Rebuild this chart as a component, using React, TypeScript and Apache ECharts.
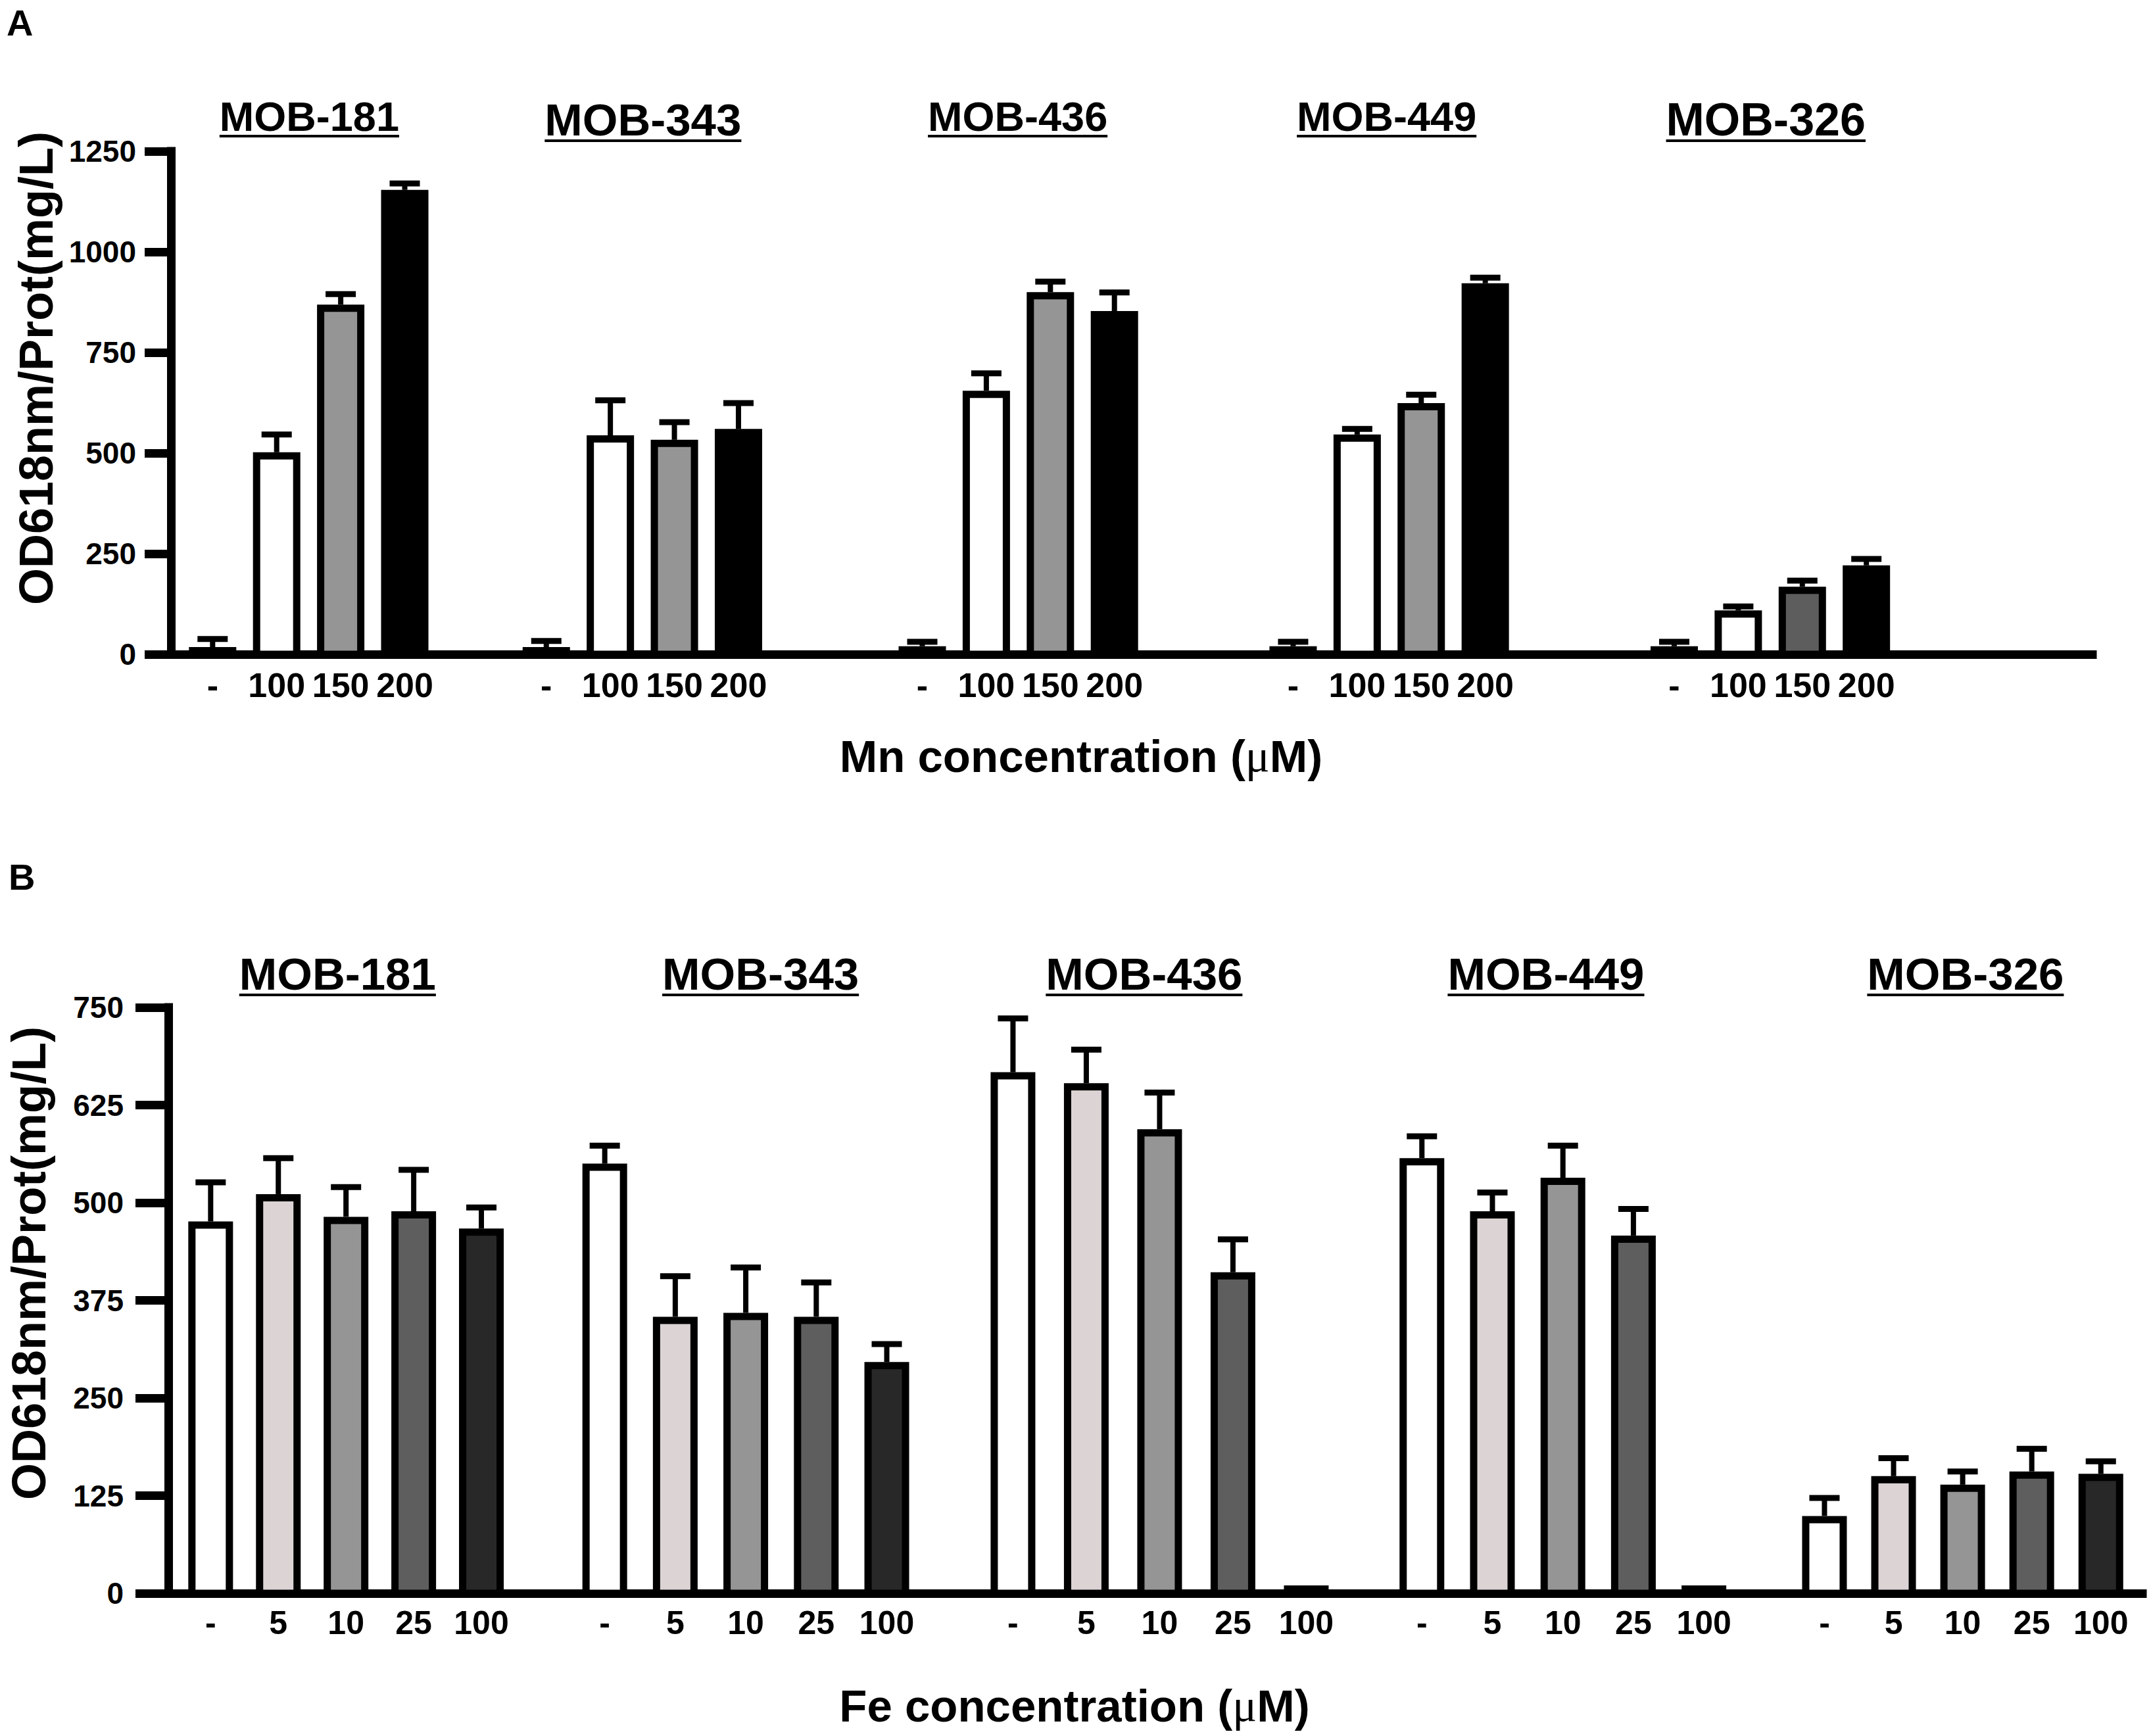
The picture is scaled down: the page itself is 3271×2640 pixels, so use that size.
import React, { useEffect, useRef } from "react";
import * as echarts from "echarts";

// ---------------- DATA ----------------
const cellLines = ["MOB-181", "MOB-343", "MOB-436", "MOB-449", "MOB-326"];

// Panel A: Mn concentration (µM)
const mnLabels = ["-", "100", "150", "200"];
const mnNone = [18, 18, 20, 20, 20];
const mn100 = [502, 544, 655, 546, 109];
const mn150 = [869, 533, 900, 624, 168];
const mn200 = [1154, 560, 853, 922, 221];
const mnNoneErr = [20, 15, 11, 11, 11];
const mn100Err = [44, 87, 43, 14, 10];
const mn150Err = [26, 44, 26, 21, 15];
const mn200Err = [16, 64, 46, 14, 16];
const mnTicks = [0, 250, 500, 750, 1000, 1250];

// Panel B: Fe concentration (µM)
const feLabels = ["-", "5", "10", "25", "100"];
const feNone = [476, 550, 667, 557, 99];
const fe5 = [511, 354, 653, 489, 150];
const fe10 = [482, 359, 594, 532, 139];
const fe25 = [489, 354, 411, 458, 156];
const fe100 = [467, 296, 10, 10, 153];
const feNoneErr = [50, 23, 69, 28, 23];
const fe5Err = [46, 52, 43, 24, 23];
const fe10Err = [38, 58, 47, 41, 17];
const fe25Err = [53, 44, 42, 34, 29];
const fe100Err = [27, 23, 0, 0, 16];
const feTicks = [0, 125, 250, 375, 500, 625, 750];

// ---------------- LAYOUT / STYLE ----------------
const FF = '"Liberation Sans", Arial, Helvetica, sans-serif';

const layoutA = {
  left: 260, top: 230, width: 2922, height: 765, xMax: 30,
  starts: [0.65, 5.86, 11.73, 17.52, 23.47], steps: [1, 1, 1, 1, 1],
  titleCenters: [2.16, 7.37, 13.22, 18.98, 24.9],
  barW: 72, capW: 46, tickLen: 40, labelMargin: 53, tickLabelDy: 47, tickFont: 52,
  titleFonts: [63, 69, 63, 63, 70], titleBaselines: [200, 207, 200, 200, 207],
};
const layoutB = {
  left: 256, top: 1532, width: 3002, height: 891, xMax: 28,
  starts: [0.6, 6.19, 11.98, 17.78, 23.49], steps: [0.96, 1.0, 1.04, 1.0, 0.98],
  titleCenters: [2.4, 8.4, 13.84, 19.54, 25.49],
  barW: 68, capW: 46, tickLen: 50, labelMargin: 68, tickLabelDy: 45, tickFont: 50,
  titleFonts: [69, 69, 69, 69, 69], titleBaselines: [1506, 1506, 1506, 1506, 1506],
};
const fillsA = ["#ffffff", "#ffffff", "#959595", "#000000"];
const overridesA: Record<string, string> = { "4-2": "#5d5d5d" };
const fillsB = ["#ffffff", "#dcd4d4", "#959595", "#5e5e5e", "#282828"];

let measureCtx: CanvasRenderingContext2D | null = null;
function measure(text: string, size: number) {
  if (!measureCtx) measureCtx = document.createElement("canvas").getContext("2d");
  if (!measureCtx) return text.length * size * 0.6;
  measureCtx.font = `bold ${size}px "Liberation Sans", Arial, sans-serif`;
  return measureCtx.measureText(text).width;
}

function buildSeries(pi: number, P: any, levels: string[], values: number[][], errs: number[][], fills: string[], overrides: Record<string, string>) {
  const series: any[] = [];
  levels.forEach((lv, i) => {
    const pos = P.starts.map((s: number, g: number) => s + i * P.steps[g]);
    series.push({
      type: "custom",
      name: lv,
      xAxisIndex: pi,
      yAxisIndex: pi,
      z: 3,
      silent: true,
      clip: false,
      itemStyle: { color: fills[i] },
      data: values[i].map((v, g) => {
        const item: any = { value: [pos[g], v, v + errs[i][g]] };
        const o = overrides[`${g}-${i}`];
        if (o) item.itemStyle = { color: o };
        return item;
      }),
      renderItem: (params: any, api: any) => {
        const x = api.value(0);
        const v = api.value(1);
        const e = api.value(2);
        const top = api.coord([x, v]);
        const base = api.coord([x, 0]);
        const errP = api.coord([x, e]);
        const cx = top[0];
        const yTop = top[1];
        const y0 = base[1];
        const lw = 11;
        const fill = api.visual("color");
        const children: any[] = [];
        if (e > v) {
          children.push({ type: "line", shape: { x1: cx, y1: yTop, x2: cx, y2: errP[1] }, style: { stroke: "#000", lineWidth: 8 } });
          children.push({ type: "line", shape: { x1: cx - P.capW / 2, y1: errP[1], x2: cx + P.capW / 2, y2: errP[1] }, style: { stroke: "#000", lineWidth: 9 } });
        }
        children.push({
          type: "rect",
          shape: { x: cx - P.barW / 2 + lw / 2, y: yTop + lw / 2, width: P.barW - lw, height: Math.max(0, y0 - yTop - lw / 2) },
          style: { fill, stroke: "#000", lineWidth: lw },
        });
        return { type: "group", children };
      },
    });
  });

  // x tick labels under each bar
  const tickData: number[][] = [];
  const tickText: string[] = [];
  levels.forEach((lv, i) => {
    P.starts.forEach((s: number, g: number) => {
      tickData.push([s + i * P.steps[g], 0]);
      tickText.push(lv);
    });
  });
  series.push({
    type: "custom",
    xAxisIndex: pi,
    yAxisIndex: pi,
    silent: true,
    clip: false,
    z: 4,
    data: tickData,
    renderItem: (params: any, api: any) => {
      const p = api.coord([api.value(0), 0]);
      return {
        type: "text",
        x: p[0],
        y: p[1] + P.tickLabelDy,
        style: { text: tickText[params.dataIndex], fill: "#000", fontSize: P.tickFont, fontWeight: "bold", fontFamily: FF, align: "center", verticalAlign: "middle" },
      };
    },
  });

  // underlined group titles
  series.push({
    type: "custom",
    xAxisIndex: pi,
    yAxisIndex: pi,
    silent: true,
    clip: false,
    z: 4,
    data: P.titleCenters.map((c: number) => [c, 0]),
    renderItem: (params: any, api: any) => {
      const g = params.dataIndex;
      const x = api.coord([api.value(0), 0])[0];
      const fs = P.titleFonts[g];
      const bl = P.titleBaselines[g];
      const w = measure(cellLines[g], fs);
      return {
        type: "group",
        children: [
          { type: "text", x, y: bl - 0.358 * fs, style: { text: cellLines[g], fill: "#000", fontSize: fs, fontWeight: "bold", fontFamily: FF, align: "center", verticalAlign: "middle" } },
          { type: "line", shape: { x1: x - w / 2, y1: bl + 7, x2: x + w / 2, y2: bl + 7 }, style: { stroke: "#000", lineWidth: 4 } },
        ],
      };
    },
  });
  return series;
}

function yAxisFor(pi: number, P: any, ticks: number[]) {
  return {
    gridIndex: pi,
    type: "value",
    min: ticks[0],
    max: ticks[ticks.length - 1],
    interval: ticks[1] - ticks[0],
    axisLine: { show: true, lineStyle: { color: "#000", width: 13, cap: "square" } },
    axisTick: { show: true, length: P.tickLen, lineStyle: { color: "#000", width: 13 } },
    axisLabel: { fontSize: 46, fontWeight: "bold", color: "#000", fontFamily: FF, margin: P.labelMargin, formatter: (v: number) => String(v) },
    splitLine: { show: false },
  };
}

function xAxisFor(pi: number, P: any) {
  return {
    gridIndex: pi,
    type: "value",
    min: 0,
    max: P.xMax,
    axisLine: { show: true, onZero: false, lineStyle: { color: "#000", width: 13, cap: "square" } },
    axisTick: { show: false },
    axisLabel: { show: false },
    splitLine: { show: false },
  };
}

function xTitle(text: string, x: number, y: number) {
  return {
    type: "text",
    x,
    y,
    style: {
      text: `{a|${text} (}{b|μ}{a|M)}`,
      align: "center",
      verticalAlign: "middle",
      rich: {
        a: { fontSize: 69, fontWeight: "bold", fontFamily: FF, fill: "#000", color: "#000" },
        b: { fontSize: 69, fontWeight: "normal", fontFamily: '"Liberation Serif", "DejaVu Serif", serif', fill: "#000", color: "#000" },
      },
    },
  };
}

function yTitle(x: number, y: number) {
  return {
    type: "text",
    x,
    y,
    rotation: Math.PI / 2,
    style: { text: "OD618nm/Prot(mg/L)", fill: "#000", fontSize: 72, fontWeight: "bold", fontFamily: FF, align: "center", verticalAlign: "middle" },
  };
}

function buildOption() {
  const seriesA = buildSeries(0, layoutA, mnLabels, [mnNone, mn100, mn150, mn200], [mnNoneErr, mn100Err, mn150Err, mn200Err], fillsA, overridesA);
  const seriesB = buildSeries(1, layoutB, feLabels, [feNone, fe5, fe10, fe25, fe100], [feNoneErr, fe5Err, fe10Err, fe25Err, fe100Err], fillsB, {});
  return {
    animation: false,
    backgroundColor: "#ffffff",
    grid: [
      { left: layoutA.left, top: layoutA.top, width: layoutA.width, height: layoutA.height, containLabel: false, outerBoundsMode: "none" },
      { left: layoutB.left, top: layoutB.top, width: layoutB.width, height: layoutB.height, containLabel: false, outerBoundsMode: "none" },
    ],
    xAxis: [xAxisFor(0, layoutA), xAxisFor(1, layoutB)],
    yAxis: [yAxisFor(0, layoutA, mnTicks), yAxisFor(1, layoutB, feTicks)],
    series: [...seriesA, ...seriesB],
    graphic: [
      { type: "text", x: 10, y: 34, style: { text: "A", fill: "#000", fontSize: 56, fontWeight: "bold", fontFamily: FF, align: "left", verticalAlign: "middle" } },
      { type: "text", x: 13, y: 1333, style: { text: "B", fill: "#000", fontSize: 56, fontWeight: "bold", fontFamily: FF, align: "left", verticalAlign: "middle" } },
      yTitle(55, 560),
      yTitle(44, 1921),
      xTitle("Mn concentration", 1644, 1150),
      xTitle("Fe concentration", 1634, 2594),
    ],
  };
}

export default function App() {
  const ref = useRef<HTMLDivElement>(null);
  useEffect(() => {
    document.body.style.margin = "0";
    if (!ref.current) return;
    const chart = echarts.init(ref.current, null, { renderer: "svg" });
    chart.setOption(buildOption() as any);
    return () => chart.dispose();
  }, []);
  return <div ref={ref} style={{ width: 3271, height: 2640, background: "#fff" }} />;
}
